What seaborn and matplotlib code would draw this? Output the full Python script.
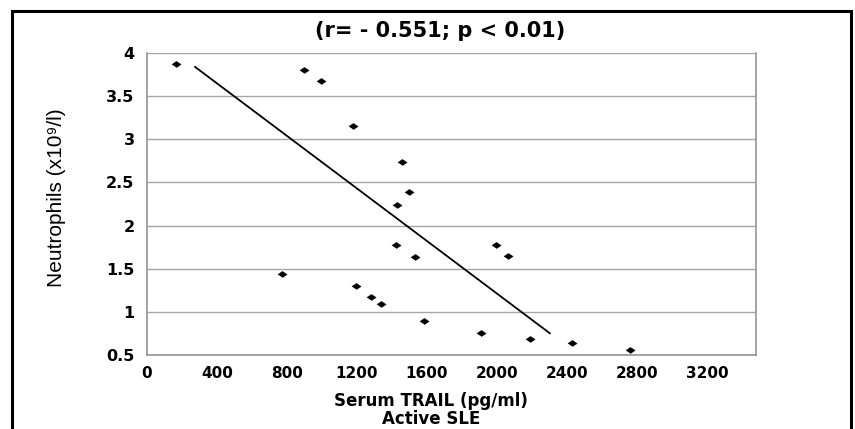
import matplotlib
matplotlib.use("Agg")
import matplotlib.pyplot as plt
import matplotlib.patches as mpatches
import seaborn as sns

# --- DATA ---
trail = [166, 897, 994, 1177, 1457, 1497, 1429, 1423, 1531, 1994,
         2063, 771, 1194, 1280, 1337, 1583, 1909, 2189, 2429, 2760]
neutrophils = [3.87, 3.80, 3.67, 3.15, 2.74, 2.39, 2.24, 1.78, 1.63, 1.78,
               1.65, 1.44, 1.30, 1.17, 1.09, 0.89, 0.76, 0.68, 0.64, 0.56]
trend_x = [274, 2303]
trend_y = [3.84, 0.75]

x_ticks = [0, 400, 800, 1200, 1600, 2000, 2400, 2800, 3200]
x_minor = [0, 800, 1600, 2400, 3200]
y_ticks = [0.5, 1, 1.5, 2, 2.5, 3, 3.5, 4]
y_labels = ["0.5", "1", "1.5", "2", "2.5", "3", "3.5", "4"]

title = "(r= - 0.551; p < 0.01)"
xlabel = "Serum TRAIL (pg/ml)\nActive SLE"
ylabel = "Neutrophils (x10\u2079/l)"

# --- PLOT ---
sns.set_theme(style="white")
plt.rcParams['font.family'] = ['DejaVu Sans']
plt.rcParams['text.color'] = 'black'
plt.rcParams['axes.labelcolor'] = 'black'
plt.rcParams['xtick.labelcolor'] = 'black'
plt.rcParams['ytick.labelcolor'] = 'black'

fig = plt.figure(figsize=(8.55, 4.29), dpi=100)
ax = fig.add_axes([147 / 855, 1 - 355 / 429, (756 - 147) / 855, (355 - 53) / 429])

diamond = [(-1.5, 0), (0, 1), (1.5, 0), (0, -1)]
sns.scatterplot(x=trail, y=neutrophils, marker=diamond, s=45, color='black',
                edgecolor='black', linewidth=0.3, ax=ax, zorder=3)
sns.lineplot(x=trend_x, y=trend_y, color='black', linewidth=1.3, ax=ax, zorder=3)

ax.set_xlim(0, 3480)
ax.set_ylim(0.5, 4)

ax.set_yticks(y_ticks)
ax.set_yticklabels(y_labels, fontsize=11.5, fontweight='bold')
ax.set_xticks(x_ticks)
ax.set_xticklabels([str(v) for v in x_ticks], fontsize=11, fontweight='bold')
ax.set_xticks(x_minor, minor=True)
ax.tick_params(axis='x', which='major', length=0, pad=8)
ax.tick_params(axis='x', which='minor', length=5, width=1, color='#8c8c8c', direction='out')
ax.tick_params(axis='y', which='major', length=6, width=1, color='#8c8c8c', direction='out', pad=3)

ax.yaxis.grid(True, color='#a6a6a6', linewidth=1)
ax.xaxis.grid(False)
ax.set_axisbelow(True)

for side in ['left', 'bottom', 'right']:
    ax.spines[side].set_color('#8c8c8c')
    ax.spines[side].set_linewidth(1.1)
ax.spines['top'].set_visible(False)

fig.text(440 / 855, 1 - 31 / 429, title, ha='center', va='center',
         fontsize=15, fontweight='bold')
ax.set_xlabel(xlabel, fontsize=12, fontweight='bold', linespacing=0.95, labelpad=12)
ax.xaxis.set_label_coords((431 - 147) / (756 - 147), -(410 - 355) / (355 - 53))
ax.xaxis.label.set_va('center')
fig.text(57 / 855, 1 - 198 / 429, ylabel, ha='center', va='center', rotation=90,
         fontsize=15, family=['Liberation Sans', 'DejaVu Sans'])

# black frame around the figure
frame = mpatches.Rectangle((12 / 855, -0.05), (851 - 12) / 855, 1.05 - 11 / 429,
                           transform=fig.transFigure, fill=False,
                           edgecolor='black', linewidth=2.2)
fig.patches.append(frame)

fig.savefig('out.png', dpi=100)
